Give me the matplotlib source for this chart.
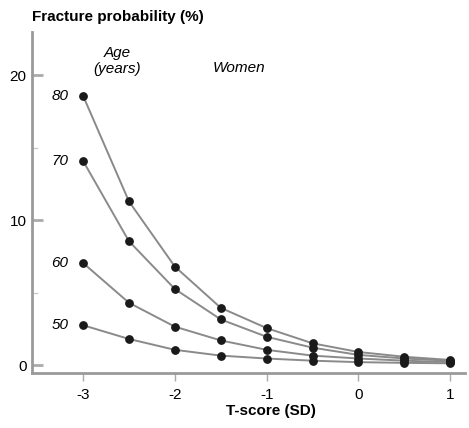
import numpy as np
import matplotlib.pyplot as plt

plt.rcParams['font.family'] = ['Liberation Sans', 'DejaVu Sans']

t_score = [-3, -2.5, -2, -1.5, -1, -0.5, 0, 0.5, 1]
ages = ['80', '70', '60', '50']
prob_80 = [18.6, 11.3, 6.8, 3.95, 2.55, 1.5, 0.9, 0.57, 0.35]
prob_70 = [14.1, 8.55, 5.25, 3.15, 1.95, 1.2, 0.7, 0.45, 0.3]
prob_60 = [7.05, 4.3, 2.65, 1.7, 1.05, 0.65, 0.45, 0.3, 0.2]
prob_50 = [2.75, 1.8, 1.05, 0.65, 0.45, 0.3, 0.2, 0.15, 0.12]

fig = plt.figure(figsize=(4.69, 4.28), dpi=100)
ax = fig.add_axes([32/469, 1-373/428, (465-32)/469, (373-32)/428])

for age, prob in zip(ages, [prob_80, prob_70, prob_60, prob_50]):
    ax.plot(t_score, prob, color='#8a8a8a', lw=1.4, zorder=1)
    ax.scatter(t_score, prob, s=28, color='#1a1a1a', zorder=2)
    ax.text(-3.16, prob[0], age, style='italic', fontsize=11, ha='right', va='center')

ax.set_xlim(-3.556, 1.16)
ax.set_ylim(-0.55, 23)
ax.set_xticks([-3, -2, -1, 0, 1])
ax.set_xticklabels(['-3', '-2', '-1', '0', '1'])
ax.set_yticks([0, 10, 20])
ax.set_yticks([5, 15], minor=True)

for s in ['top', 'right']:
    ax.spines[s].set_visible(False)
for s in ['left', 'bottom']:
    ax.spines[s].set_color('#9a9a9a')
    ax.spines[s].set_linewidth(2)

ax.tick_params(axis='y', direction='in', length=8, width=2, color='#aaaaaa', labelsize=11, pad=4)
ax.tick_params(axis='y', which='minor', direction='in', length=4, width=1, color='#cccccc')
ax.tick_params(axis='x', direction='out', length=6, width=1, color='#aaaaaa', labelsize=11, pad=5)

ax.text(-2.63, 21.0, 'Age\n(years)', style='italic', fontsize=11, ha='center', va='center')
ax.text(-1.3, 20.5, 'Women', style='italic', fontsize=11, ha='center', va='center')

fig.text(32/469, 1-17/428, 'Fracture probability (%)', fontweight='bold', fontsize=11, ha='left', va='center')
fig.text(271/469, 1-411/428, 'T-score (SD)', fontweight='bold', fontsize=11, ha='center', va='center')

fig.savefig('out.png', dpi=100)
